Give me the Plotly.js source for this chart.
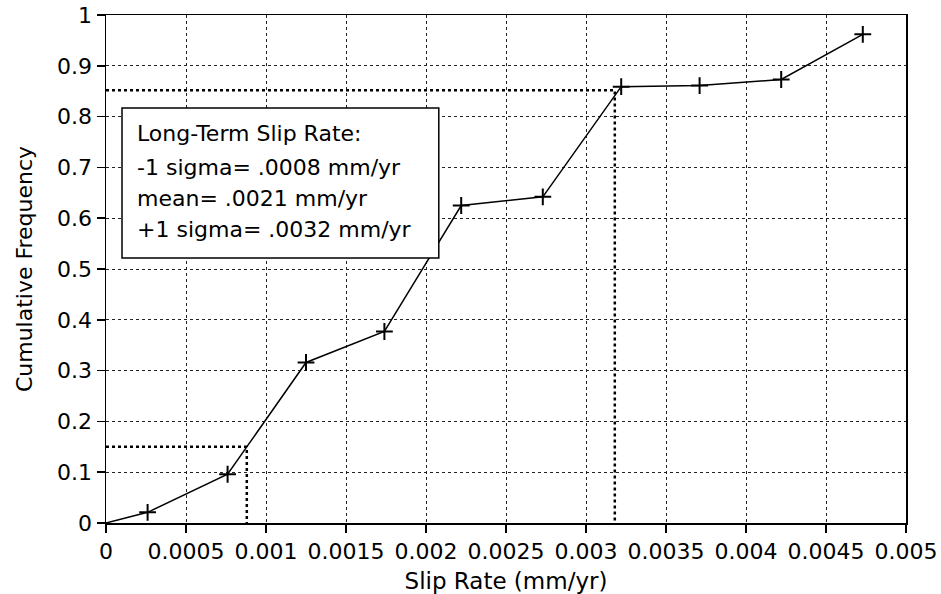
<!DOCTYPE html>
<html><head><meta charset="utf-8">
<script src="https://cdn.plot.ly/plotly-3.0.1.min.js"></script>
<style>html,body{margin:0;padding:0;background:#fff}#chart{width:941px;height:594px}</style>
</head><body><div id="chart"></div>
<script>
// Data
const slipRate = [0, 0.00026, 0.00076, 0.00125, 0.00174, 0.00222, 0.00273, 0.00322, 0.00371, 0.00422, 0.00473];
const cumFreq  = [0, 0.021, 0.096, 0.316, 0.377, 0.625, 0.642, 0.859, 0.861, 0.873, 0.962];

const minusSigmaX = [0, 0.00088, 0.00088];
const minusSigmaY = [0.15, 0.15, 0];
const plusSigmaX  = [0, 0.00318, 0.00318];
const plusSigmaY  = [0.852, 0.852, 0];

const boxLines = ["Long-Term Slip Rate:", "-1 sigma= .0008 mm/yr", "mean= .0021 mm/yr", "+1 sigma= .0032 mm/yr"];

const xTickVals = [0, 0.0005, 0.001, 0.0015, 0.002, 0.0025, 0.003, 0.0035, 0.004, 0.0045, 0.005];
const xTickText = ["0", "0.0005", "0.001", "0.0015", "0.002", "0.0025", "0.003", "0.0035", "0.004", "0.0045", "0.005"];
const yTickVals = [0, 0.1, 0.2, 0.3, 0.4, 0.5, 0.6, 0.7, 0.8, 0.9, 1];
const yTickText = ["0", "0.1", "0.2", "0.3", "0.4", "0.5", "0.6", "0.7", "0.8", "0.9", "1"];

const FONT = '"DejaVu Sans", "Liberation Sans", Arial, sans-serif';

const traces = [
  {x: minusSigmaX, y: minusSigmaY, mode: 'lines', line: {color: '#000', width: 2.5, dash: 'dot'}, hoverinfo: 'skip'},
  {x: plusSigmaX, y: plusSigmaY, mode: 'lines', line: {color: '#000', width: 2.5, dash: 'dot'}, hoverinfo: 'skip'},
  {x: slipRate, y: cumFreq, mode: 'lines', line: {color: '#000', width: 1.5}},
  {x: slipRate.slice(1), y: cumFreq.slice(1), mode: 'markers',
   marker: {symbol: 'cross-thin', size: 12, line: {color: '#000', width: 2}, color: '#000'}}
];

// box text lines: vertical centres in paper coords
const lineY = [0.7677, 0.6998, 0.6378, 0.5778];
const annotations = boxLines.map((t, i) => ({
  xref: 'paper', yref: 'paper', x: 0.036, y: lineY[i],
  xanchor: 'left', yanchor: 'middle', showarrow: false, text: t,
  font: {family: FONT, size: 22, color: '#000'}
}));

const axisCommon = {
  ticks: 'outside', ticklen: 8, tickwidth: 1.5, tickcolor: '#000',
  showline: true, linewidth: 1.5, linecolor: '#000', mirror: true,
  showgrid: true, gridcolor: '#222', griddash: 'dot', gridwidth: 1,
  zeroline: false, automargin: false, fixedrange: true,
  tickfont: {family: FONT, size: 22, color: '#000'}
};

const layout = {
  width: 941, height: 594,
  margin: {l: 106, r: 35, t: 15, b: 71},
  paper_bgcolor: '#fff', plot_bgcolor: '#fff',
  showlegend: false,
  font: {family: FONT, color: '#000'},
  xaxis: Object.assign({}, axisCommon, {
    range: [0, 0.005], tickvals: xTickVals, ticktext: xTickText,
    title: {text: 'Slip Rate (mm/yr)', font: {family: FONT, size: 23, color: '#000'}}
  }),
  yaxis: Object.assign({}, axisCommon, {
    range: [0, 1], tickvals: yTickVals, ticktext: yTickText,
    title: {text: 'Cumulative Frequency', font: {family: FONT, size: 22, color: '#000'}, standoff: 18}
  }),
  shapes: [{
    type: 'rect', xref: 'paper', yref: 'paper', layer: 'above',
    x0: 0.02, x1: 0.416, y0: 0.5217, y1: 0.817,
    line: {color: '#000', width: 1.5}, fillcolor: '#fff'
  }],
  annotations: annotations
};

Plotly.newPlot('chart', traces, layout, {staticPlot: true, displayModeBar: false});
</script>
</body></html>
